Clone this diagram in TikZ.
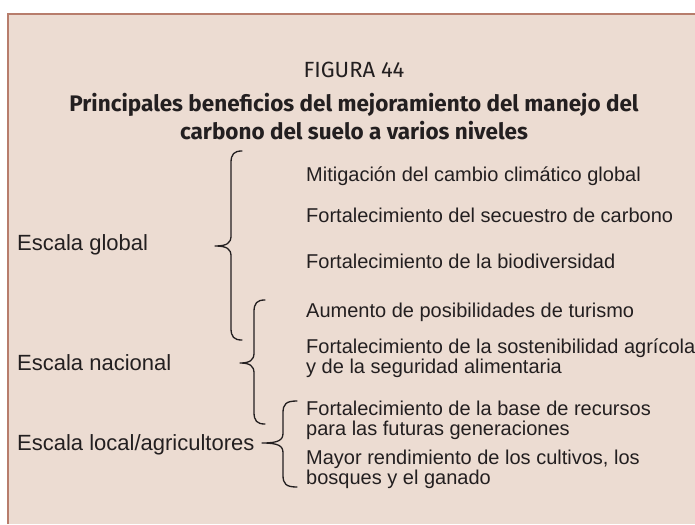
\documentclass[tikz,border=0pt]{standalone}
\usepackage{fontspec}
\setmainfont{Liberation Sans}
\newfontfamily\titlefont{Fira Sans}
\definecolor{bgfill}{RGB}{236,220,210}
\definecolor{framecol}{RGB}{183,125,108}
\definecolor{ink}{RGB}{35,31,32}
% curly brace opening to the right, tip on the left
% #1 end x, #2 vertical x, #3 tip x, #4 top y, #5 tip y, #6 bottom y
\newcommand\FBrace[6]{%
  \draw[bracepath] (#1,#4) .. controls ({#2+3},{#4}) and ({#2},{#4+3}) .. ({#2},{#4+12})
    -- ({#2},{#5-10}) .. controls ({#2},{#5-3}) and ({#2-4},{#5}) .. (#3,#5)
    .. controls ({#2-4},{#5}) and ({#2},{#5+3}) .. ({#2},{#5+10})
    -- ({#2},{#6-12}) .. controls ({#2},{#6-3}) and ({#2+3},{#6}) .. (#1,#6);}
\begin{document}
\begin{tikzpicture}[x=1pt,y=-1pt,
  item/.style={anchor=base west, inner sep=0pt, align=left, text=ink,
    font=\fontsize{20}{20}\selectfont},
  levellabel/.style={anchor=base west, inner sep=0pt, text=ink,
    font=\fontsize{22}{22}\selectfont},
  bracepath/.style={draw=ink, line width=1.3pt, line join=round, line cap=round}]
\useasboundingbox (0,0) rectangle (695,524);
\fill[bgfill] (7,13) rectangle (695,524);
\draw[framecol, line width=2.5pt] (8,524) -- (8,14) -- (695,14);

\node[anchor=base, inner sep=0pt, text=ink, font=\titlefont\fontsize{22}{22}\selectfont] (fig) at (354,78) {FIGURA 44};
\node[anchor=base, inner sep=0pt, text=ink, align=center,
  font=\titlefont\bfseries\fontsize{22.5}{28}\selectfont] (title) at (354,139)
  {Principales beneficios del mejoramiento del manejo del\\carbono del suelo a varios niveles};

\node[levellabel] (global) at (17,250) {Escala global};
\node[levellabel] (nacional) at (17,370) {Escala nacional};
\node[levellabel] (local) at (17,450) {Escala local/agricultores};

\node[item] (i1) at (306,181) {Mitigación del cambio climático global};
\node[item] (i2) at (306,222) {Fortalecimiento del secuestro de carbono};
\node[item] (i3) at (306,268) {Fortalecimiento de la biodiversidad};
\node[item] (i4) at (306,317) {Aumento de posibilidades de turismo};
\node[item] (i5) at (306,373) {Fortalecimiento de la sostenibilidad agrícola\\y de la seguridad alimentaria};
\node[item] (i6) at (306,435) {Fortalecimiento de la base de recursos\\para las futuras generaciones};
\node[item] (i7) at (306,484) {Mayor rendimiento de los cultivos, los\\bosques y el ganado};

\FBrace{242}{231}{215}{151}{246}{340}
\FBrace{265}{254}{240}{300}{363}{424}
\FBrace{297}{283}{262}{401}{443}{487}
\end{tikzpicture}
\end{document}
